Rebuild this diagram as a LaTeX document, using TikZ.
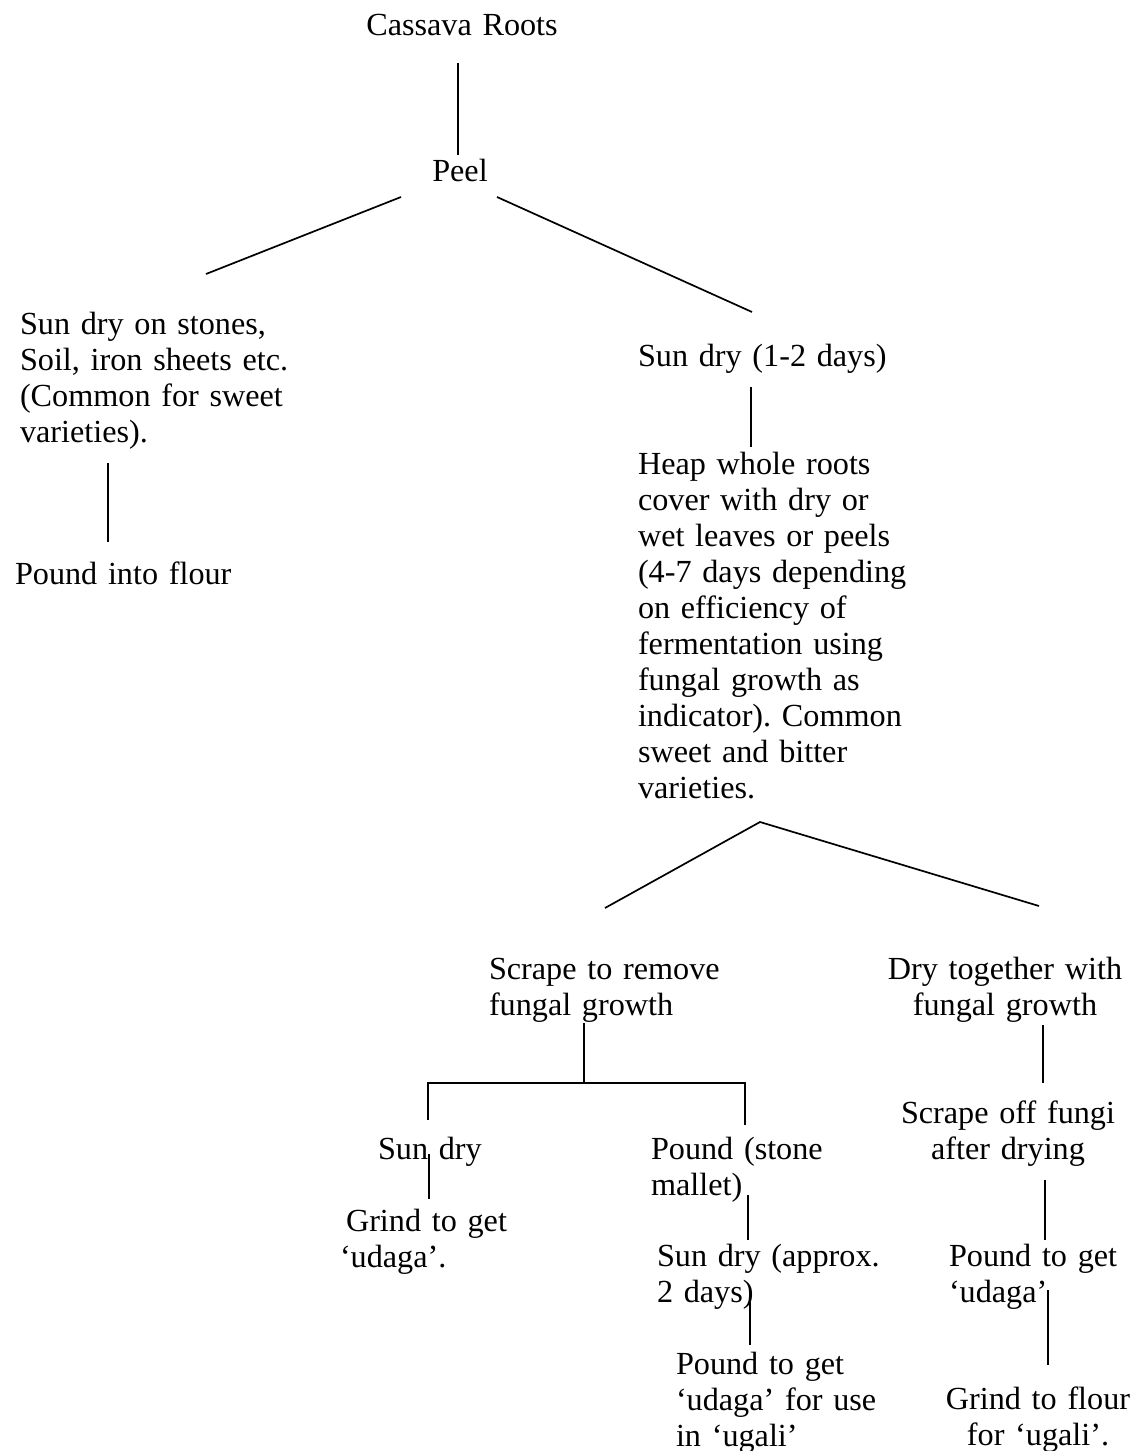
\documentclass[tikz,border=0pt]{standalone}
\usepackage{fontspec}
\setmainfont{Liberation Serif}
\frenchspacing
\begin{document}
\begin{tikzpicture}[x=1pt,y=-1pt,
  txt/.style={font=\fontsize{32.2}{36}\selectfont\frenchspacing, inner sep=0pt, outer sep=0pt},
  lblock/.style={txt, text width=420pt, align=left, anchor=base west},
  cblock/.style={txt, text width=320pt, align=center, anchor=base},
  conn/.style={line width=1.7pt, line cap=butt}]
\useasboundingbox (0,0) rectangle (1141,1451);
\fill[white] (0,0) rectangle (1141,1451);

% text nodes
\node[cblock] (cassava) at (462,35) {Cassava Roots};
\node[cblock] (peel) at (460,181) {Peel};
\node[lblock] (stones) at (20,334) {Sun dry on stones,\\Soil, iron sheets etc.\\(Common for sweet\\varieties).};
\node[lblock] (flour) at (15,584) {Pound into flour};
\node[lblock] (sundry) at (638,366) {Sun dry (1-2 days)};
\node[lblock] (heap) at (638,474) {Heap whole roots\\cover with dry or\\wet leaves or peels\\(4-7 days depending\\on efficiency of\\fermentation using\\fungal growth as\\indicator). Common\\sweet and bitter\\varieties.};
\node[lblock] (scrape) at (489,979) {Scrape to remove\\fungal growth};
\node[cblock] (drytog) at (1005,979) {Dry together with\\fungal growth};
\node[lblock] (sundry2) at (378,1159) {Sun dry};
\node[lblock] (grind) at (340,1231) {\hspace*{6pt}Grind to get\\‘udaga’.};
\node[lblock] (poundstone) at (651,1159) {Pound (stone\\mallet)};
\node[lblock] (sundry3) at (657,1266) {Sun dry (approx.\\2 days)};
\node[lblock] (pound3) at (676,1374) {Pound to get\\‘udaga’ for use\\in ‘ugali’};
\node[cblock] (scrapeoff) at (1008,1123) {Scrape off fungi\\after drying};
\node[lblock] (pound4) at (949,1266) {Pound to get\\‘udaga’};
\node[cblock] (grindfl) at (1038,1409) {Grind to flour\\for ‘ugali’.};

% connector end points
\coordinate (a1) at (458,63);   \coordinate (a2) at (458,155);
\coordinate (b0) at (401,197);  \coordinate (b1) at (206,274);
\coordinate (c0) at (497,197);  \coordinate (c1) at (752,312);
\coordinate (d0) at (751,387);  \coordinate (d1) at (751,447);
\coordinate (e0) at (108,463);  \coordinate (e1) at (108,542);
\coordinate (apex) at (760,822);
\coordinate (f1) at (605,908);  \coordinate (g1) at (1039,906);
\coordinate (h0) at (584,1023); \coordinate (h1) at (584,1083);
\coordinate (hl) at (428,1083); \coordinate (hr) at (745,1083);
\coordinate (hl1) at (428,1120); \coordinate (hr1) at (745,1125);
\coordinate (i0) at (429,1154); \coordinate (i1) at (429,1199);
\coordinate (j0) at (748,1195); \coordinate (j1) at (748,1240);
\coordinate (k0) at (750,1302); \coordinate (k1) at (750,1345);
\coordinate (m0) at (1043,1025); \coordinate (m1) at (1043,1083);
\coordinate (n0) at (1045,1180); \coordinate (n1) at (1045,1240);
\coordinate (p0) at (1048,1290); \coordinate (p1) at (1048,1365);

% connectors
\draw[conn] (a1) -- (a2);
\draw[conn] (b0) -- (b1);
\draw[conn] (c0) -- (c1);
\draw[conn] (d0) -- (d1);
\draw[conn] (e0) -- (e1);
\draw[conn] (f1) -- (apex) -- (g1);
\draw[conn] (h0) -- (h1);
\draw[conn] (hl1) -- (hl) -- (hr) -- (hr1);
\draw[conn] (i0) -- (i1);
\draw[conn] (j0) -- (j1);
\draw[conn] (k0) -- (k1);
\draw[conn] (m0) -- (m1);
\draw[conn] (n0) -- (n1);
\draw[conn] (p0) -- (p1);
\end{tikzpicture}
\end{document}
